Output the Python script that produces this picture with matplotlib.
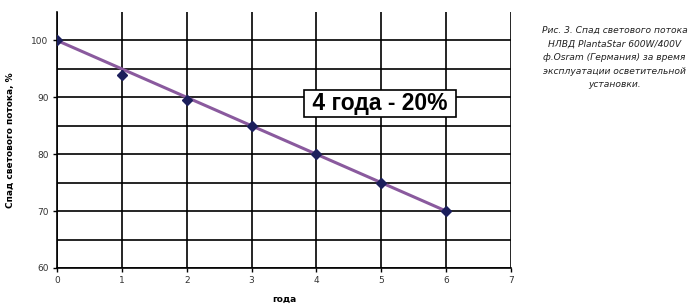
import matplotlib
matplotlib.use("Agg")
from matplotlib import pyplot as plt

years = [0, 1, 2, 3, 4, 5, 6]
flux = [100, 94, 89.5, 85, 80, 75, 70]
trend_x = [0, 6]
trend_y = [100, 70]
yticks = [60, 70, 80, 90, 100]
ygrid = [65, 75, 85, 95]
xticks = [0, 1, 2, 3, 4, 5, 6, 7]

fig = plt.figure(figsize=(7, 3.08), dpi=100)
ax = fig.add_axes([0.0814, 0.13, 0.6486, 0.831])

ax.plot(trend_x, trend_y, color="#8a5a9e", lw=2.2, zorder=3)
ax.plot(years, flux, ls="none", marker="D", ms=5.5, color="#1c1f5c", zorder=4)

ax.set_xlim(0, 7)
ax.set_ylim(60, 105)
ax.set_xticks(xticks)
ax.set_yticks(yticks)
ax.set_yticks(ygrid, minor=True)
ax.tick_params(axis="y", which="minor", length=0)
ax.tick_params(labelsize=6.5, length=3, width=1, color="black", pad=3, labelcolor="#333333")
ax.grid(True, which="both", color="black", lw=1.2)
ax.set_axisbelow(True)
for side in ["top", "right"]:
    ax.spines[side].set_visible(False)
for side in ["left", "bottom"]:
    ax.spines[side].set_linewidth(1.2)

ax.set_xlabel("года", fontsize=6.5, fontweight="bold")
ax.xaxis.set_label_coords(0.5, -0.105)
ax.set_ylabel("Спад светового потока, %", fontsize=6.5, fontweight="bold", labelpad=12)

ax.text(4.98, 88.9, " 4 года - 20% ", fontsize=16.5, fontweight="bold", ha="center", va="center",
        family=["Liberation Sans", "DejaVu Sans"],
        bbox=dict(boxstyle="square,pad=0.1", fc="white", ec="black", lw=1.2), zorder=5)

caption = ("Рис. 3. Спад светового потока\nНЛВД PlantaStar 600W/400V\n"
           "ф.Osram (Германия) за время\nэксплуатации осветительной\nустановки.")
fig.text(0.878, 0.915, caption, fontsize=6.6, style="italic", ha="center", va="top",
         family=["Liberation Sans Narrow", "DejaVu Sans"], linespacing=1.65, color="#222222")

fig.savefig("out.png", dpi=100)
